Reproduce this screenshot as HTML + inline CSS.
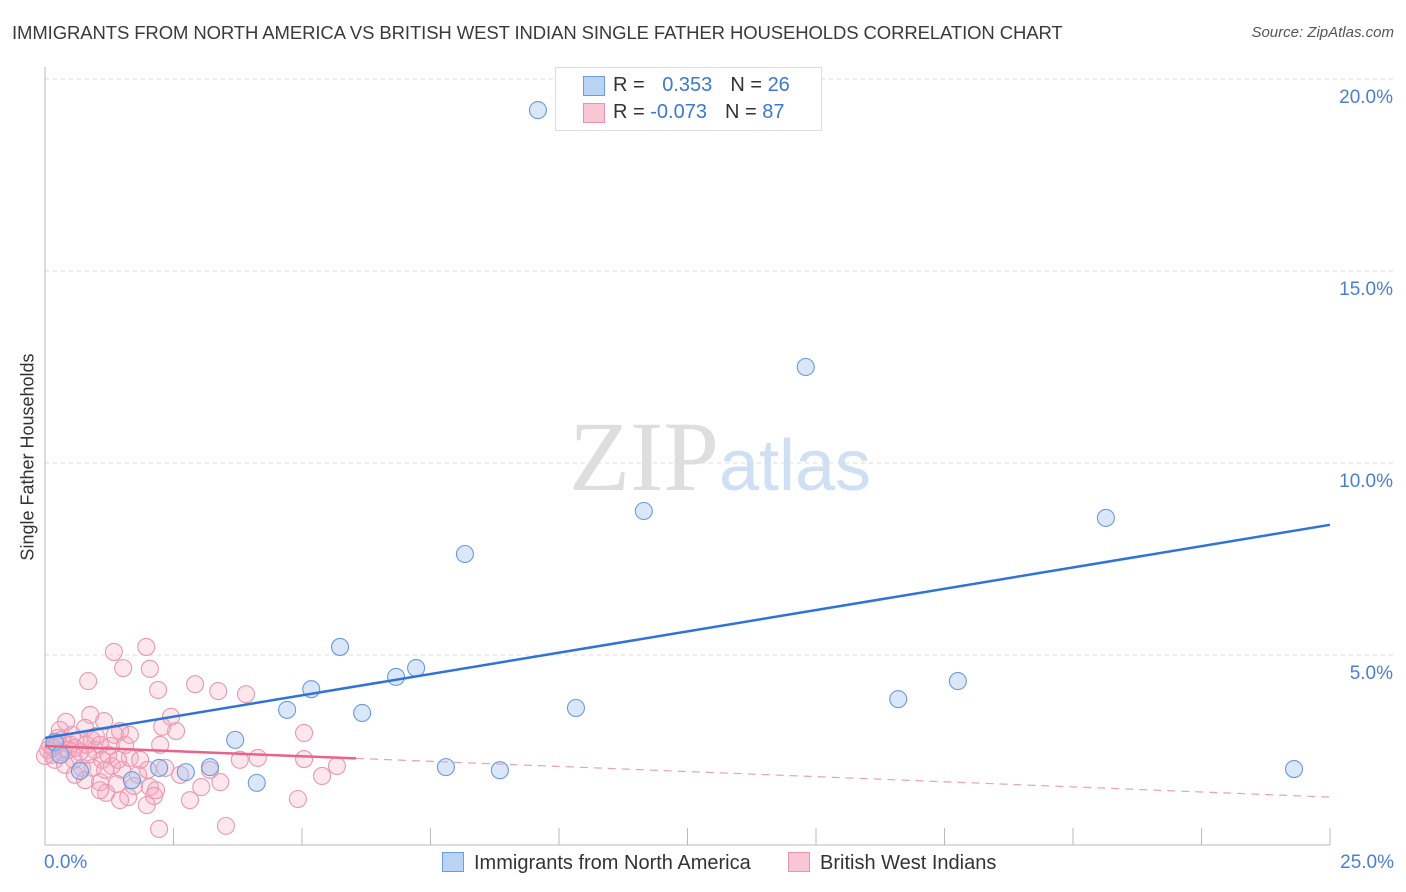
<!DOCTYPE html>
<html><head><meta charset="utf-8"><style>
body{margin:0;background:#fff;font-family:"Liberation Sans",sans-serif;}
#wrap{position:relative;width:1406px;height:892px;overflow:hidden;}
</style></head><body>
<div id="wrap">
<div style="position:absolute;left:12px;top:22px;font-size:18.5px;color:#3a3a3a;letter-spacing:-0.1px;">IMMIGRANTS FROM NORTH AMERICA VS BRITISH WEST INDIAN SINGLE FATHER HOUSEHOLDS CORRELATION CHART</div>
<div style="position:absolute;right:12px;top:24px;font-size:15px;color:#555;font-style:italic;">Source: ZipAtlas.com</div>
<svg id="svg" width="1406" height="892" style="position:absolute;left:0;top:0;"></svg>
</div>
<script>
const blueX=[9.59,14.8,11.65,20.64,8.17,5.74,7.22,6.83,5.18,4.71,6.17,10.33,16.6,17.76,3.7,7.8,8.85,24.3,3.21,2.74,2.22,4.12,1.69,0.68,0.19,0.3];
const blueY=[19.19,12.5,8.75,8.57,7.63,5.21,4.66,4.43,4.11,3.57,3.49,3.62,3.85,4.32,2.79,2.08,2.0,2.03,2.08,1.95,2.06,1.67,1.74,1.98,2.73,2.4];
const pinkX=[1.97,1.34,1.52,0.84,2.04,2.20,2.92,3.37,3.91,2.45,0.88,1.15,1.46,2.55,2.28,5.04,4.14,5.04,5.68,5.39,4.92,3.52,2.22,2.04,1.62,1.19,1.07,2.24,1.28,0.66,0.78,0.99,0.41,0.25,0.49,0.33,0.14,0.56,0.72,0.93,1.11,1.30,1.50,1.65,1.81,2.00,1.40,1.73,2.16,2.12,1.98,3.04,3.41,1.36,0.97,0.29,0.10,0.53,0.19,0.39,0.84,1.17,0.0,0.06,0.16,0.23,0.33,0.45,0.58,0.68,0.80,0.91,1.07,1.23,1.42,1.56,1.65,1.85,2.34,2.63,3.21,3.79,2.82,1.46,1.07,0.78,0.58];
const pinkY=[5.21,5.08,4.66,4.32,4.64,4.09,4.24,4.06,3.98,3.39,3.44,3.28,3.02,3.02,3.13,2.97,2.32,2.29,2.11,1.85,1.25,0.55,0.47,1.56,1.30,1.41,1.69,2.66,2.63,2.79,3.10,2.89,3.26,2.84,2.66,2.47,2.40,2.27,2.06,2.06,2.27,2.11,2.01,2.32,1.88,2.01,1.64,1.59,1.48,1.33,1.09,1.56,1.69,2.92,2.53,3.05,2.66,2.92,2.27,2.14,2.40,2.01,2.37,2.53,2.58,2.66,2.79,2.53,2.58,2.47,2.66,2.79,2.66,2.40,2.27,2.66,2.92,2.27,2.06,1.88,2.01,2.27,1.22,1.22,1.48,1.74,1.88];
const blueTrend=[2.84,8.39];
const pinkTrend=[2.63,1.30];
const pinkSolidEnd=6.05;
const yTicks=[5,10,15,20];
const yTickLabels=["5.0%","10.0%","15.0%","20.0%"];
const xTicks=[0,2.5,5,7.5,10,12.5,15,17.5,20,22.5,25];

const NS="http://www.w3.org/2000/svg";
const svg=document.getElementById('svg');
const X=v=>45+v*51.4, Y=v=>847-v*38.4;
function mk(t,a,p){const e=document.createElementNS(NS,t);for(const k in a)e.setAttribute(k,a[k]);(p||svg).appendChild(e);return e;}
yTicks.forEach((t,i)=>{
 const g=mk('line',{x1:45,x2:1395,y1:Y(t),y2:Y(t),stroke:'#ddd','stroke-dasharray':'4,4'});
 
 
 const l=mk('text',{x:1393,y:Y(t)+24,'text-anchor':'end','font-size':19,fill:'#4a7fd4','font-family':'Liberation Sans'});
 l.textContent=yTickLabels[i];
 
 
});
const ax=mk('line',{x1:45,x2:45,y1:67,y2:845,stroke:'#bbb'});


const bx=mk('line',{x1:45,x2:1330,y1:845,y2:845,stroke:'#bbb'});


xTicks.forEach(t=>{
 const tk=mk('line',{x1:X(t),x2:X(t),y1:828,y2:845,stroke:'#bbb'});
 
 
});
const wm=mk('text',{x:720,y:490,'text-anchor':'middle','font-size':100,fill:'#dedede','font-family':'Liberation Serif'});
wm.innerHTML='ZIP<tspan font-family="Liberation Sans" font-size="72" fill="#cfdff4">atlas</tspan>';


pinkX.forEach((v,i)=>{
 const c=mk('circle',{cx:X(v),cy:Y(pinkY[i]),r:8.5,fill:'rgba(244,170,192,0.28)',stroke:'#eb98b2','stroke-width':1.1});
 
 
});
blueX.forEach((v,i)=>{
 const c=mk('circle',{cx:X(v),cy:Y(blueY[i]),r:8.5,fill:'rgba(160,196,240,0.4)',stroke:'#6a9adc','stroke-width':1.1});
 
 
});
const pt=x=>pinkTrend[0]+(pinkTrend[1]-pinkTrend[0])*x/25;
const bt=x=>blueTrend[0]+(blueTrend[1]-blueTrend[0])*x/25;
const pl=mk('line',{x1:X(0),y1:Y(pt(0)),x2:X(pinkSolidEnd),y2:Y(pt(pinkSolidEnd)),stroke:'#e8628c','stroke-width':2.5});


const pd=mk('line',{x1:X(pinkSolidEnd),y1:Y(pt(pinkSolidEnd)),x2:X(25),y2:Y(pt(25)),stroke:'#eaa0b8','stroke-width':1.2,'stroke-dasharray':'8,6'});


const bl=mk('line',{x1:X(0),y1:Y(bt(0)),x2:X(25),y2:Y(bt(25)),stroke:'#2e73d6','stroke-width':2.5});


</script>
<div style="position:absolute;left:28px;top:457px;transform:translate(-50%,-50%) rotate(-90deg);font-size:18px;color:#333;white-space:nowrap;">Single Father Households</div>
<div style="position:absolute;left:44px;top:852px;font-size:19px;color:#4a7fd4;">0.0%</div>
<div style="position:absolute;right:12px;top:852px;font-size:19px;color:#4a7fd4;">25.0%</div>
<div style="position:absolute;left:555px;top:67px;width:265px;height:62px;border:1px solid #ddd;background:#fff;font-size:20px;color:#333;">
 <div style="position:absolute;left:27px;top:8px;width:20px;height:18px;background:#b9d3f4;border:1px solid #6d9ce0;"></div>
 <div style="position:absolute;left:57px;top:6px;">R = <span style="color:#3a78d4;margin-left:12px">0.353</span><span style="margin-left:18px">N = </span><span style="color:#3a78d4">26</span></div>
 <div style="position:absolute;left:27px;top:35px;width:20px;height:18px;background:#f9c6d4;border:1px solid #ea93ae;"></div>
 <div style="position:absolute;left:57px;top:33px;">R = <span style="color:#3a78d4;">-0.073</span><span style="margin-left:18px">N = </span><span style="color:#3a78d4">87</span></div>
</div>
<div style="position:absolute;left:442px;top:852px;font-size:20px;color:#333;">
 <span style="display:inline-block;width:20px;height:18px;background:#b9d3f4;border:1px solid #6d9ce0;vertical-align:-3px;margin-right:10px;"></span>Immigrants from North America</div>
<div style="position:absolute;left:788px;top:852px;font-size:20px;color:#333;">
 <span style="display:inline-block;width:20px;height:18px;background:#f9c6d4;border:1px solid #ea93ae;vertical-align:-3px;margin-right:10px;"></span>British West Indians</div>
</body></html>
